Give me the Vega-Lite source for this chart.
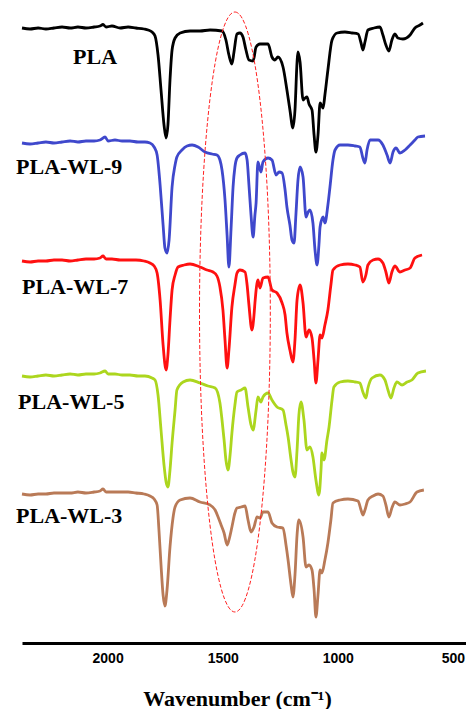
{
"$schema": "https://vega.github.io/schema/vega-lite/v6.json",
"width": 444, "height": 643,
"autosize": {"type": "none"},
"padding": {"left": 22, "top": 0, "right": 0, "bottom": 66},
"background": "white",
"config": {"view": {"stroke": null}},
"datasets": {
"spectra": [
{"s":"PLA","w":2372,"y":28},{"s":"PLA","w":2337,"y":29},{"s":"PLA","w":2302,"y":28},{"s":"PLA","w":2268,"y":29},{"s":"PLA","w":2233,"y":28},{"s":"PLA","w":2198,"y":27},{"s":"PLA","w":2163,"y":28},{"s":"PLA","w":2129,"y":27},{"s":"PLA","w":2094,"y":28},{"s":"PLA","w":2059,"y":27},{"s":"PLA","w":2033,"y":26},{"s":"PLA","w":2020,"y":24.5},{"s":"PLA","w":2007,"y":27},{"s":"PLA","w":1981,"y":26},{"s":"PLA","w":1946,"y":28},{"s":"PLA","w":1911,"y":27},{"s":"PLA","w":1877,"y":28},{"s":"PLA","w":1842,"y":29},{"s":"PLA","w":1824,"y":30},{"s":"PLA","w":1807,"y":32},{"s":"PLA","w":1794,"y":36},{"s":"PLA","w":1781,"y":55},{"s":"PLA","w":1768,"y":90},{"s":"PLA","w":1755,"y":125},{"s":"PLA","w":1746,"y":138},{"s":"PLA","w":1738,"y":125},{"s":"PLA","w":1729,"y":80},{"s":"PLA","w":1720,"y":50},{"s":"PLA","w":1707,"y":38},{"s":"PLA","w":1685,"y":33},{"s":"PLA","w":1642,"y":31},{"s":"PLA","w":1599,"y":31},{"s":"PLA","w":1555,"y":30},{"s":"PLA","w":1503,"y":31},{"s":"PLA","w":1486,"y":40},{"s":"PLA","w":1473,"y":55},{"s":"PLA","w":1460,"y":64},{"s":"PLA","w":1451,"y":52},{"s":"PLA","w":1438,"y":34},{"s":"PLA","w":1425,"y":33},{"s":"PLA","w":1412,"y":37},{"s":"PLA","w":1399,"y":50},{"s":"PLA","w":1386,"y":60},{"s":"PLA","w":1368,"y":61},{"s":"PLA","w":1355,"y":47},{"s":"PLA","w":1338,"y":44},{"s":"PLA","w":1303,"y":44},{"s":"PLA","w":1286,"y":57},{"s":"PLA","w":1273,"y":60},{"s":"PLA","w":1260,"y":57},{"s":"PLA","w":1238,"y":67},{"s":"PLA","w":1221,"y":90},{"s":"PLA","w":1208,"y":110},{"s":"PLA","w":1195,"y":128},{"s":"PLA","w":1186,"y":110},{"s":"PLA","w":1177,"y":62},{"s":"PLA","w":1173,"y":52},{"s":"PLA","w":1164,"y":62},{"s":"PLA","w":1151,"y":100},{"s":"PLA","w":1142,"y":98},{"s":"PLA","w":1134,"y":97},{"s":"PLA","w":1125,"y":104},{"s":"PLA","w":1112,"y":110},{"s":"PLA","w":1103,"y":135},{"s":"PLA","w":1095,"y":152},{"s":"PLA","w":1086,"y":135},{"s":"PLA","w":1077,"y":103},{"s":"PLA","w":1064,"y":108},{"s":"PLA","w":1056,"y":95},{"s":"PLA","w":1043,"y":70},{"s":"PLA","w":1025,"y":40},{"s":"PLA","w":1003,"y":33},{"s":"PLA","w":969,"y":32},{"s":"PLA","w":938,"y":33},{"s":"PLA","w":912,"y":34},{"s":"PLA","w":899,"y":43},{"s":"PLA","w":891,"y":50},{"s":"PLA","w":882,"y":42},{"s":"PLA","w":869,"y":30},{"s":"PLA","w":843,"y":28},{"s":"PLA","w":817,"y":27},{"s":"PLA","w":804,"y":35},{"s":"PLA","w":791,"y":45},{"s":"PLA","w":778,"y":51},{"s":"PLA","w":765,"y":40},{"s":"PLA","w":752,"y":34},{"s":"PLA","w":739,"y":38},{"s":"PLA","w":717,"y":39},{"s":"PLA","w":686,"y":35},{"s":"PLA","w":665,"y":28},{"s":"PLA","w":643,"y":25},{"s":"PLA","w":630,"y":23},

{"s":"PLA-WL-9","w":2372,"y":143},{"s":"PLA-WL-9","w":2337,"y":144},{"s":"PLA-WL-9","w":2302,"y":143},{"s":"PLA-WL-9","w":2268,"y":142},{"s":"PLA-WL-9","w":2233,"y":143},{"s":"PLA-WL-9","w":2198,"y":142},{"s":"PLA-WL-9","w":2163,"y":141},{"s":"PLA-WL-9","w":2129,"y":142},{"s":"PLA-WL-9","w":2094,"y":141},{"s":"PLA-WL-9","w":2059,"y":141},{"s":"PLA-WL-9","w":2033,"y":140},{"s":"PLA-WL-9","w":2011,"y":137},{"s":"PLA-WL-9","w":1998,"y":141},{"s":"PLA-WL-9","w":1968,"y":140},{"s":"PLA-WL-9","w":1937,"y":141},{"s":"PLA-WL-9","w":1903,"y":141},{"s":"PLA-WL-9","w":1868,"y":142},{"s":"PLA-WL-9","w":1838,"y":142},{"s":"PLA-WL-9","w":1816,"y":143},{"s":"PLA-WL-9","w":1798,"y":147},{"s":"PLA-WL-9","w":1785,"y":155},{"s":"PLA-WL-9","w":1772,"y":185},{"s":"PLA-WL-9","w":1759,"y":225},{"s":"PLA-WL-9","w":1751,"y":248},{"s":"PLA-WL-9","w":1742,"y":253},{"s":"PLA-WL-9","w":1733,"y":240},{"s":"PLA-WL-9","w":1720,"y":187},{"s":"PLA-WL-9","w":1707,"y":165},{"s":"PLA-WL-9","w":1699,"y":157},{"s":"PLA-WL-9","w":1677,"y":150},{"s":"PLA-WL-9","w":1655,"y":146},{"s":"PLA-WL-9","w":1633,"y":145},{"s":"PLA-WL-9","w":1607,"y":147},{"s":"PLA-WL-9","w":1577,"y":152},{"s":"PLA-WL-9","w":1546,"y":154},{"s":"PLA-WL-9","w":1525,"y":155},{"s":"PLA-WL-9","w":1512,"y":160},{"s":"PLA-WL-9","w":1503,"y":170},{"s":"PLA-WL-9","w":1490,"y":200},{"s":"PLA-WL-9","w":1481,"y":235},{"s":"PLA-WL-9","w":1473,"y":267},{"s":"PLA-WL-9","w":1464,"y":230},{"s":"PLA-WL-9","w":1455,"y":187},{"s":"PLA-WL-9","w":1447,"y":167},{"s":"PLA-WL-9","w":1438,"y":158},{"s":"PLA-WL-9","w":1425,"y":155},{"s":"PLA-WL-9","w":1403,"y":153},{"s":"PLA-WL-9","w":1394,"y":160},{"s":"PLA-WL-9","w":1386,"y":185},{"s":"PLA-WL-9","w":1377,"y":215},{"s":"PLA-WL-9","w":1368,"y":237},{"s":"PLA-WL-9","w":1360,"y":215},{"s":"PLA-WL-9","w":1355,"y":203},{"s":"PLA-WL-9","w":1347,"y":162},{"s":"PLA-WL-9","w":1334,"y":172},{"s":"PLA-WL-9","w":1325,"y":162},{"s":"PLA-WL-9","w":1303,"y":158},{"s":"PLA-WL-9","w":1286,"y":160},{"s":"PLA-WL-9","w":1268,"y":175},{"s":"PLA-WL-9","w":1255,"y":172},{"s":"PLA-WL-9","w":1242,"y":173},{"s":"PLA-WL-9","w":1229,"y":190},{"s":"PLA-WL-9","w":1221,"y":207},{"s":"PLA-WL-9","w":1208,"y":225},{"s":"PLA-WL-9","w":1199,"y":240},{"s":"PLA-WL-9","w":1190,"y":243},{"s":"PLA-WL-9","w":1182,"y":215},{"s":"PLA-WL-9","w":1173,"y":180},{"s":"PLA-WL-9","w":1164,"y":167},{"s":"PLA-WL-9","w":1151,"y":177},{"s":"PLA-WL-9","w":1138,"y":217},{"s":"PLA-WL-9","w":1129,"y":212},{"s":"PLA-WL-9","w":1121,"y":210},{"s":"PLA-WL-9","w":1108,"y":223},{"s":"PLA-WL-9","w":1099,"y":250},{"s":"PLA-WL-9","w":1090,"y":265},{"s":"PLA-WL-9","w":1082,"y":245},{"s":"PLA-WL-9","w":1077,"y":227},{"s":"PLA-WL-9","w":1064,"y":217},{"s":"PLA-WL-9","w":1056,"y":223},{"s":"PLA-WL-9","w":1043,"y":205},{"s":"PLA-WL-9","w":1034,"y":187},{"s":"PLA-WL-9","w":1021,"y":160},{"s":"PLA-WL-9","w":1012,"y":150},{"s":"PLA-WL-9","w":990,"y":145},{"s":"PLA-WL-9","w":956,"y":145},{"s":"PLA-WL-9","w":925,"y":146},{"s":"PLA-WL-9","w":904,"y":147},{"s":"PLA-WL-9","w":891,"y":158},{"s":"PLA-WL-9","w":882,"y":163},{"s":"PLA-WL-9","w":873,"y":150},{"s":"PLA-WL-9","w":860,"y":140},{"s":"PLA-WL-9","w":825,"y":140},{"s":"PLA-WL-9","w":804,"y":145},{"s":"PLA-WL-9","w":786,"y":155},{"s":"PLA-WL-9","w":773,"y":163},{"s":"PLA-WL-9","w":760,"y":152},{"s":"PLA-WL-9","w":747,"y":148},{"s":"PLA-WL-9","w":730,"y":153},{"s":"PLA-WL-9","w":708,"y":150},{"s":"PLA-WL-9","w":686,"y":145},{"s":"PLA-WL-9","w":665,"y":140},{"s":"PLA-WL-9","w":652,"y":137},{"s":"PLA-WL-9","w":621,"y":136},

{"s":"PLA-WL-7","w":2372,"y":261},{"s":"PLA-WL-7","w":2337,"y":262},{"s":"PLA-WL-7","w":2302,"y":261},{"s":"PLA-WL-7","w":2268,"y":261},{"s":"PLA-WL-7","w":2233,"y":260},{"s":"PLA-WL-7","w":2198,"y":260},{"s":"PLA-WL-7","w":2163,"y":261},{"s":"PLA-WL-7","w":2129,"y":260},{"s":"PLA-WL-7","w":2094,"y":259},{"s":"PLA-WL-7","w":2059,"y":259},{"s":"PLA-WL-7","w":2033,"y":258},{"s":"PLA-WL-7","w":2020,"y":256},{"s":"PLA-WL-7","w":2007,"y":259},{"s":"PLA-WL-7","w":1981,"y":259},{"s":"PLA-WL-7","w":1946,"y":260},{"s":"PLA-WL-7","w":1911,"y":260},{"s":"PLA-WL-7","w":1877,"y":260},{"s":"PLA-WL-7","w":1842,"y":261},{"s":"PLA-WL-7","w":1816,"y":263},{"s":"PLA-WL-7","w":1798,"y":266},{"s":"PLA-WL-7","w":1785,"y":273},{"s":"PLA-WL-7","w":1772,"y":300},{"s":"PLA-WL-7","w":1759,"y":345},{"s":"PLA-WL-7","w":1746,"y":370},{"s":"PLA-WL-7","w":1738,"y":355},{"s":"PLA-WL-7","w":1729,"y":320},{"s":"PLA-WL-7","w":1720,"y":290},{"s":"PLA-WL-7","w":1707,"y":275},{"s":"PLA-WL-7","w":1694,"y":267},{"s":"PLA-WL-7","w":1668,"y":265},{"s":"PLA-WL-7","w":1642,"y":264},{"s":"PLA-WL-7","w":1599,"y":267},{"s":"PLA-WL-7","w":1568,"y":270},{"s":"PLA-WL-7","w":1542,"y":272},{"s":"PLA-WL-7","w":1525,"y":276},{"s":"PLA-WL-7","w":1512,"y":287},{"s":"PLA-WL-7","w":1499,"y":310},{"s":"PLA-WL-7","w":1490,"y":340},{"s":"PLA-WL-7","w":1481,"y":368},{"s":"PLA-WL-7","w":1473,"y":350},{"s":"PLA-WL-7","w":1460,"y":307},{"s":"PLA-WL-7","w":1447,"y":285},{"s":"PLA-WL-7","w":1438,"y":273},{"s":"PLA-WL-7","w":1425,"y":270},{"s":"PLA-WL-7","w":1403,"y":272},{"s":"PLA-WL-7","w":1394,"y":285},{"s":"PLA-WL-7","w":1386,"y":305},{"s":"PLA-WL-7","w":1373,"y":330},{"s":"PLA-WL-7","w":1364,"y":315},{"s":"PLA-WL-7","w":1360,"y":303},{"s":"PLA-WL-7","w":1347,"y":280},{"s":"PLA-WL-7","w":1338,"y":288},{"s":"PLA-WL-7","w":1325,"y":278},{"s":"PLA-WL-7","w":1303,"y":277},{"s":"PLA-WL-7","w":1286,"y":290},{"s":"PLA-WL-7","w":1264,"y":293},{"s":"PLA-WL-7","w":1242,"y":303},{"s":"PLA-WL-7","w":1229,"y":315},{"s":"PLA-WL-7","w":1221,"y":333},{"s":"PLA-WL-7","w":1208,"y":350},{"s":"PLA-WL-7","w":1195,"y":362},{"s":"PLA-WL-7","w":1186,"y":340},{"s":"PLA-WL-7","w":1177,"y":300},{"s":"PLA-WL-7","w":1164,"y":285},{"s":"PLA-WL-7","w":1151,"y":303},{"s":"PLA-WL-7","w":1138,"y":337},{"s":"PLA-WL-7","w":1125,"y":330},{"s":"PLA-WL-7","w":1112,"y":338},{"s":"PLA-WL-7","w":1103,"y":360},{"s":"PLA-WL-7","w":1095,"y":383},{"s":"PLA-WL-7","w":1086,"y":360},{"s":"PLA-WL-7","w":1077,"y":335},{"s":"PLA-WL-7","w":1069,"y":338},{"s":"PLA-WL-7","w":1056,"y":325},{"s":"PLA-WL-7","w":1043,"y":310},{"s":"PLA-WL-7","w":1030,"y":285},{"s":"PLA-WL-7","w":1021,"y":270},{"s":"PLA-WL-7","w":990,"y":265},{"s":"PLA-WL-7","w":956,"y":264},{"s":"PLA-WL-7","w":925,"y":265},{"s":"PLA-WL-7","w":904,"y":267},{"s":"PLA-WL-7","w":891,"y":282},{"s":"PLA-WL-7","w":878,"y":275},{"s":"PLA-WL-7","w":869,"y":265},{"s":"PLA-WL-7","w":847,"y":260},{"s":"PLA-WL-7","w":825,"y":259},{"s":"PLA-WL-7","w":804,"y":263},{"s":"PLA-WL-7","w":791,"y":272},{"s":"PLA-WL-7","w":778,"y":283},{"s":"PLA-WL-7","w":765,"y":272},{"s":"PLA-WL-7","w":752,"y":266},{"s":"PLA-WL-7","w":730,"y":272},{"s":"PLA-WL-7","w":708,"y":270},{"s":"PLA-WL-7","w":686,"y":268},{"s":"PLA-WL-7","w":665,"y":258},{"s":"PLA-WL-7","w":634,"y":255},

{"s":"PLA-WL-5","w":2372,"y":376},{"s":"PLA-WL-5","w":2337,"y":377},{"s":"PLA-WL-5","w":2302,"y":376},{"s":"PLA-WL-5","w":2268,"y":375},{"s":"PLA-WL-5","w":2233,"y":376},{"s":"PLA-WL-5","w":2198,"y":375},{"s":"PLA-WL-5","w":2163,"y":374},{"s":"PLA-WL-5","w":2129,"y":375},{"s":"PLA-WL-5","w":2094,"y":374},{"s":"PLA-WL-5","w":2059,"y":374},{"s":"PLA-WL-5","w":2033,"y":373},{"s":"PLA-WL-5","w":2011,"y":371},{"s":"PLA-WL-5","w":1998,"y":374},{"s":"PLA-WL-5","w":1968,"y":374},{"s":"PLA-WL-5","w":1937,"y":375},{"s":"PLA-WL-5","w":1903,"y":375},{"s":"PLA-WL-5","w":1868,"y":376},{"s":"PLA-WL-5","w":1838,"y":376},{"s":"PLA-WL-5","w":1807,"y":378},{"s":"PLA-WL-5","w":1794,"y":380},{"s":"PLA-WL-5","w":1781,"y":395},{"s":"PLA-WL-5","w":1768,"y":430},{"s":"PLA-WL-5","w":1755,"y":465},{"s":"PLA-WL-5","w":1746,"y":482},{"s":"PLA-WL-5","w":1738,"y":487},{"s":"PLA-WL-5","w":1729,"y":470},{"s":"PLA-WL-5","w":1720,"y":443},{"s":"PLA-WL-5","w":1707,"y":410},{"s":"PLA-WL-5","w":1699,"y":390},{"s":"PLA-WL-5","w":1672,"y":382},{"s":"PLA-WL-5","w":1642,"y":380},{"s":"PLA-WL-5","w":1599,"y":383},{"s":"PLA-WL-5","w":1564,"y":386},{"s":"PLA-WL-5","w":1533,"y":388},{"s":"PLA-WL-5","w":1512,"y":403},{"s":"PLA-WL-5","w":1503,"y":420},{"s":"PLA-WL-5","w":1494,"y":440},{"s":"PLA-WL-5","w":1486,"y":460},{"s":"PLA-WL-5","w":1477,"y":470},{"s":"PLA-WL-5","w":1468,"y":455},{"s":"PLA-WL-5","w":1460,"y":433},{"s":"PLA-WL-5","w":1447,"y":405},{"s":"PLA-WL-5","w":1438,"y":392},{"s":"PLA-WL-5","w":1420,"y":390},{"s":"PLA-WL-5","w":1403,"y":388},{"s":"PLA-WL-5","w":1390,"y":407},{"s":"PLA-WL-5","w":1377,"y":425},{"s":"PLA-WL-5","w":1368,"y":430},{"s":"PLA-WL-5","w":1355,"y":410},{"s":"PLA-WL-5","w":1347,"y":397},{"s":"PLA-WL-5","w":1334,"y":402},{"s":"PLA-WL-5","w":1325,"y":397},{"s":"PLA-WL-5","w":1303,"y":393},{"s":"PLA-WL-5","w":1286,"y":400},{"s":"PLA-WL-5","w":1264,"y":407},{"s":"PLA-WL-5","w":1238,"y":410},{"s":"PLA-WL-5","w":1225,"y":425},{"s":"PLA-WL-5","w":1216,"y":437},{"s":"PLA-WL-5","w":1203,"y":460},{"s":"PLA-WL-5","w":1195,"y":472},{"s":"PLA-WL-5","w":1186,"y":477},{"s":"PLA-WL-5","w":1177,"y":450},{"s":"PLA-WL-5","w":1169,"y":415},{"s":"PLA-WL-5","w":1160,"y":402},{"s":"PLA-WL-5","w":1147,"y":420},{"s":"PLA-WL-5","w":1134,"y":450},{"s":"PLA-WL-5","w":1121,"y":447},{"s":"PLA-WL-5","w":1108,"y":457},{"s":"PLA-WL-5","w":1095,"y":480},{"s":"PLA-WL-5","w":1082,"y":495},{"s":"PLA-WL-5","w":1073,"y":470},{"s":"PLA-WL-5","w":1069,"y":453},{"s":"PLA-WL-5","w":1060,"y":460},{"s":"PLA-WL-5","w":1047,"y":440},{"s":"PLA-WL-5","w":1038,"y":427},{"s":"PLA-WL-5","w":1025,"y":400},{"s":"PLA-WL-5","w":1017,"y":387},{"s":"PLA-WL-5","w":990,"y":382},{"s":"PLA-WL-5","w":956,"y":381},{"s":"PLA-WL-5","w":925,"y":382},{"s":"PLA-WL-5","w":904,"y":383},{"s":"PLA-WL-5","w":891,"y":392},{"s":"PLA-WL-5","w":878,"y":398},{"s":"PLA-WL-5","w":869,"y":388},{"s":"PLA-WL-5","w":851,"y":378},{"s":"PLA-WL-5","w":817,"y":375},{"s":"PLA-WL-5","w":795,"y":380},{"s":"PLA-WL-5","w":782,"y":390},{"s":"PLA-WL-5","w":769,"y":398},{"s":"PLA-WL-5","w":756,"y":388},{"s":"PLA-WL-5","w":743,"y":382},{"s":"PLA-WL-5","w":721,"y":385},{"s":"PLA-WL-5","w":699,"y":382},{"s":"PLA-WL-5","w":678,"y":380},{"s":"PLA-WL-5","w":652,"y":373},{"s":"PLA-WL-5","w":617,"y":371},

{"s":"PLA-WL-3","w":2372,"y":494},{"s":"PLA-WL-3","w":2337,"y":495},{"s":"PLA-WL-3","w":2302,"y":494},{"s":"PLA-WL-3","w":2268,"y":494},{"s":"PLA-WL-3","w":2233,"y":493},{"s":"PLA-WL-3","w":2198,"y":493},{"s":"PLA-WL-3","w":2163,"y":493},{"s":"PLA-WL-3","w":2129,"y":492},{"s":"PLA-WL-3","w":2094,"y":493},{"s":"PLA-WL-3","w":2059,"y":492},{"s":"PLA-WL-3","w":2033,"y":491},{"s":"PLA-WL-3","w":2020,"y":489},{"s":"PLA-WL-3","w":2007,"y":492},{"s":"PLA-WL-3","w":1981,"y":492},{"s":"PLA-WL-3","w":1946,"y":492},{"s":"PLA-WL-3","w":1911,"y":492},{"s":"PLA-WL-3","w":1877,"y":493},{"s":"PLA-WL-3","w":1842,"y":494},{"s":"PLA-WL-3","w":1816,"y":496},{"s":"PLA-WL-3","w":1798,"y":499},{"s":"PLA-WL-3","w":1785,"y":505},{"s":"PLA-WL-3","w":1777,"y":530},{"s":"PLA-WL-3","w":1768,"y":565},{"s":"PLA-WL-3","w":1759,"y":595},{"s":"PLA-WL-3","w":1751,"y":606},{"s":"PLA-WL-3","w":1742,"y":590},{"s":"PLA-WL-3","w":1729,"y":547},{"s":"PLA-WL-3","w":1716,"y":518},{"s":"PLA-WL-3","w":1707,"y":507},{"s":"PLA-WL-3","w":1685,"y":500},{"s":"PLA-WL-3","w":1642,"y":498},{"s":"PLA-WL-3","w":1599,"y":502},{"s":"PLA-WL-3","w":1555,"y":505},{"s":"PLA-WL-3","w":1533,"y":510},{"s":"PLA-WL-3","w":1520,"y":517},{"s":"PLA-WL-3","w":1507,"y":525},{"s":"PLA-WL-3","w":1494,"y":533},{"s":"PLA-WL-3","w":1481,"y":545},{"s":"PLA-WL-3","w":1473,"y":540},{"s":"PLA-WL-3","w":1460,"y":527},{"s":"PLA-WL-3","w":1447,"y":513},{"s":"PLA-WL-3","w":1438,"y":508},{"s":"PLA-WL-3","w":1420,"y":507},{"s":"PLA-WL-3","w":1403,"y":506},{"s":"PLA-WL-3","w":1390,"y":520},{"s":"PLA-WL-3","w":1377,"y":532},{"s":"PLA-WL-3","w":1364,"y":527},{"s":"PLA-WL-3","w":1351,"y":517},{"s":"PLA-WL-3","w":1338,"y":518},{"s":"PLA-WL-3","w":1325,"y":512},{"s":"PLA-WL-3","w":1303,"y":512},{"s":"PLA-WL-3","w":1286,"y":523},{"s":"PLA-WL-3","w":1264,"y":527},{"s":"PLA-WL-3","w":1238,"y":528},{"s":"PLA-WL-3","w":1225,"y":545},{"s":"PLA-WL-3","w":1216,"y":560},{"s":"PLA-WL-3","w":1203,"y":585},{"s":"PLA-WL-3","w":1195,"y":597},{"s":"PLA-WL-3","w":1186,"y":575},{"s":"PLA-WL-3","w":1177,"y":535},{"s":"PLA-WL-3","w":1169,"y":520},{"s":"PLA-WL-3","w":1151,"y":537},{"s":"PLA-WL-3","w":1138,"y":567},{"s":"PLA-WL-3","w":1125,"y":565},{"s":"PLA-WL-3","w":1112,"y":570},{"s":"PLA-WL-3","w":1103,"y":590},{"s":"PLA-WL-3","w":1095,"y":617},{"s":"PLA-WL-3","w":1086,"y":595},{"s":"PLA-WL-3","w":1077,"y":570},{"s":"PLA-WL-3","w":1069,"y":573},{"s":"PLA-WL-3","w":1056,"y":560},{"s":"PLA-WL-3","w":1043,"y":543},{"s":"PLA-WL-3","w":1030,"y":520},{"s":"PLA-WL-3","w":1021,"y":503},{"s":"PLA-WL-3","w":990,"y":500},{"s":"PLA-WL-3","w":956,"y":499},{"s":"PLA-WL-3","w":912,"y":501},{"s":"PLA-WL-3","w":899,"y":510},{"s":"PLA-WL-3","w":891,"y":515},{"s":"PLA-WL-3","w":882,"y":510},{"s":"PLA-WL-3","w":869,"y":500},{"s":"PLA-WL-3","w":847,"y":496},{"s":"PLA-WL-3","w":825,"y":494},{"s":"PLA-WL-3","w":804,"y":496},{"s":"PLA-WL-3","w":791,"y":505},{"s":"PLA-WL-3","w":778,"y":517},{"s":"PLA-WL-3","w":765,"y":508},{"s":"PLA-WL-3","w":752,"y":502},{"s":"PLA-WL-3","w":730,"y":505},{"s":"PLA-WL-3","w":708,"y":504},{"s":"PLA-WL-3","w":686,"y":502},{"s":"PLA-WL-3","w":656,"y":492},{"s":"PLA-WL-3","w":626,"y":490}
],
"labels": [
{"label":"PLA","w":2150,"y":57},
{"label":"PLA-WL-9","w":2398,"y":167},
{"label":"PLA-WL-7","w":2372,"y":287},
{"label":"PLA-WL-5","w":2389,"y":402},
{"label":"PLA-WL-3","w":2398,"y":516}
],
"ring": [{"w":1447,"y":312}]
},
"encoding": {
"x": {"field": "w", "type": "quantitative", "scale": {"domain": [2372, 443], "nice": false, "zero": false},
"axis": {"values": [2000, 1500, 1000, 500], "format": "d", "ticks": false, "tickSize": 0, "grid": false, "domainColor": "black", "domainWidth": 3,
"labelFont": "Liberation Sans", "labelFontWeight": "bold", "labelFontSize": 14, "labelColor": "black", "labelPadding": 8, "labelFlush": false,
"title": "Wavenumber (cm⁻¹)", "titleFont": "Liberation Serif", "titleFontSize": 22, "titleFontWeight": "bold", "titleColor": "black", "titlePadding": 23, "titleX": 215}},
"y": {"field": "y", "type": "quantitative", "scale": {"domain": [0, 643], "reverse": true, "nice": false, "zero": false}, "axis": null}
},
"layer": [
{
"data": {"name": "spectra"},
"mark": {"type": "line", "strokeWidth": 2.8, "interpolate": "monotone"},
"encoding": {
"color": {"field": "s", "type": "nominal", "legend": null,
"scale": {"domain": ["PLA", "PLA-WL-9", "PLA-WL-7", "PLA-WL-5", "PLA-WL-3"], "range": ["#000000", "#3F48CC", "#FF1010", "#ACD61E", "#B97A57"]}},
"detail": {"field": "s"}
}
},
{
"data": {"name": "ring"},
"mark": {"type": "point", "shape": "M0,-1 A0.118,1 0 1,1 0,1 A0.118,1 0 1,1 0,-1 Z", "size": 360000, "filled": false, "stroke": "#FF2020", "strokeWidth": 1, "strokeDash": [4, 2], "opacity": 1}
},
{
"data": {"name": "labels"},
"mark": {"type": "text", "align": "left", "baseline": "middle", "font": "Liberation Serif", "fontWeight": "bold", "fontSize": 22, "color": "black"},
"encoding": {"text": {"field": "label"}}
}
]
}
